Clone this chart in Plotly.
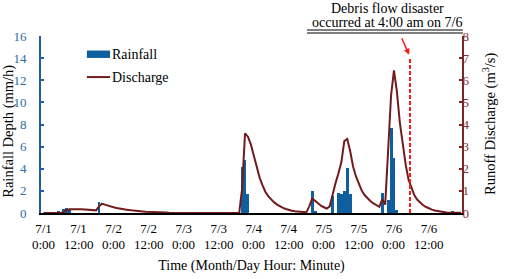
import plotly.graph_objects as go

# ---- data (hourly, hour 0 = 7/1 0:00) ----
hours = list(range(0, 144))

rain_events = {5: 0.15, 7: 0.35, 8: 0.45, 9: 0.25, 19: 1.0,
               68: 4.2, 69: 4.8, 70: 1.7,
               92: 1.95, 93: 0.15,
               99: 1.55, 101: 1.85, 102: 1.75, 103: 2.0, 104: 4.1, 105: 1.75,
               116: 1.8, 118: 1.2, 119: 7.7, 120: 5.0, 121: 0.25,
               140: 0.15}
rainfall = [rain_events.get(h, 0.0) for h in hours]

discharge_events = {
    7: 0.05, 8: 0.14, 9: 0.17, 10: 0.18, 11: 0.18, 12: 0.17, 13: 0.17, 14: 0.16,
    15: 0.15, 16: 0.14, 17: 0.13, 18: 0.12, 19: 0.3, 20: 0.42, 21: 0.38, 22: 0.33,
    23: 0.29, 24: 0.26, 25: 0.23, 26: 0.2, 27: 0.18, 28: 0.16, 29: 0.14, 30: 0.12,
    31: 0.1, 32: 0.09, 33: 0.08, 34: 0.07, 35: 0.06, 36: 0.05, 37: 0.045, 38: 0.04,
    39: 0.035, 40: 0.03, 41: 0.025, 42: 0.02, 43: 0.015, 44: 0.01, 45: 0.01,
    68: 1.1, 69: 3.6, 70: 3.45, 71: 3.1, 72: 2.6, 73: 2.05, 74: 1.6, 75: 1.25,
    76: 0.95, 77: 0.75, 78: 0.6, 79: 0.48, 80: 0.38, 81: 0.3, 82: 0.23, 83: 0.18,
    84: 0.13, 85: 0.1, 86: 0.08, 87: 0.06, 88: 0.05, 89: 0.04, 90: 0.03,
    91: 0.3, 92: 0.65, 93: 0.55, 94: 0.42, 95: 0.33, 96: 0.26, 97: 0.2, 98: 0.3,
    99: 0.9, 100: 1.35, 101: 1.8, 102: 2.3, 103: 3.25, 104: 3.35, 105: 2.8,
    106: 2.1, 107: 1.65, 108: 1.3, 109: 1.0, 110: 0.8, 111: 0.65, 112: 0.53,
    113: 0.43, 114: 0.35, 115: 0.28, 116: 0.62, 117: 0.38, 118: 2.8, 119: 5.3,
    120: 6.45, 121: 5.5, 122: 4.1, 123: 3.1, 124: 2.2, 125: 1.5, 126: 1.1,
    127: 0.8, 128: 0.6, 129: 0.45, 130: 0.35, 131: 0.27, 132: 0.2, 133: 0.15,
    134: 0.11, 135: 0.08, 136: 0.05, 137: 0.03, 138: 0.02, 139: 0.01, 140: 0.01,
    141: 0.01, 142: 0.01, 143: 0.01}
discharge = [discharge_events.get(h, 0.0) for h in hours]

tick_hours = [0, 12, 24, 36, 48, 60, 72, 84, 96, 108, 120, 132]
tick_dates = ["7/1", "7/1", "7/2", "7/2", "7/3", "7/3",
              "7/4", "7/4", "7/5", "7/5", "7/6", "7/6"]
tick_times = ["0:00", "12:00"] * 6

disaster_hour = 125.5
disaster_top = 7.05

FONT = "Liberation Serif"
BLUE = "#0F5E9E"
BLUE_AX = "#1F5F9F"
BLUE_TXT = "#2D6CA8"
RED_LINE = "#731B1B"
RED_AX = "#7E2424"
RED_TXT = "#8B2B2B"

fig = go.Figure()
fig.add_trace(go.Bar(x=hours, y=rainfall, name="Rainfall", marker_color=BLUE,
                     marker_line_width=0, width=1.0, yaxis="y", showlegend=False))
fig.add_trace(go.Scatter(x=hours, y=discharge, name="Discharge", mode="lines",
                         line=dict(color=RED_LINE, width=2), yaxis="y2",
                         showlegend=False))

# second line of the time-axis tick labels
for h, t in zip(tick_hours, tick_times):
    fig.add_annotation(x=h, y=0, xref="x", yref="paper", yshift=-31,
                       xanchor="center", yanchor="middle", showarrow=False, text=t,
                       font=dict(family=FONT, size=13, color="black"))

# legend (drawn manually to match the wide swatches)
fig.add_shape(type="rect", xref="paper", yref="paper", x0=0.109, x1=0.164,
              y0=0.876, y1=0.918, fillcolor=BLUE, line_width=0)
fig.add_shape(type="line", xref="paper", yref="paper", x0=0.109, x1=0.164,
              y0=0.768, y1=0.768, line=dict(color=RED_LINE, width=2))
fig.add_annotation(x=0.165, y=0.898, xref="paper", yref="paper", xanchor="left",
                   yanchor="middle", showarrow=False, text="Rainfall",
                   font=dict(family=FONT, size=14, color="black"))
fig.add_annotation(x=0.165, y=0.768, xref="paper", yref="paper", xanchor="left",
                   yanchor="middle", showarrow=False, text="Discharge",
                   font=dict(family=FONT, size=14, color="black"))

# axis titles
fig.add_annotation(x=-0.078, y=0.46, xref="paper", yref="paper", textangle=-90,
                   xanchor="center", yanchor="middle",
                   showarrow=False, text="Rainfall Depth (mm/h)",
                   font=dict(family=FONT, size=14.5, color="black"))
fig.add_annotation(x=1.0665, y=0.503, xref="paper", yref="paper", textangle=-90,
                   xanchor="center", yanchor="middle",
                   showarrow=False, text="Runoff Discharge (m<sup>3</sup>/s)",
                   font=dict(family=FONT, size=14.5, color="black"))

# disaster marker line + arrow
fig.add_shape(type="line", x0=disaster_hour, x1=disaster_hour, y0=0, y1=disaster_top,
              xref="x", yref="y2",
              line=dict(color="#FF1A1A", width=2, dash="4px,2px"))
fig.add_annotation(x=disaster_hour - 0.3, y=disaster_top + 0.1, xref="x", yref="y2",
                   ax=-8, ay=-18, showarrow=True, arrowhead=2, arrowsize=0.8,
                   arrowwidth=1.5, arrowcolor="#FF1A1A", text="")
fig.add_annotation(x=0.822, y=1.158, xref="paper", yref="paper",
                   xanchor="center", yanchor="middle",
                   showarrow=False, text="Debris flow disaster",
                   font=dict(family=FONT, size=14, color="black"))
fig.add_annotation(x=0.822, y=1.079, xref="paper", yref="paper",
                   xanchor="center", yanchor="middle",
                   showarrow=False, text="occurred at 4:00 am on 7/6",
                   font=dict(family=FONT, size=14, color="black"))
# double underline
for yy in (1.034, 1.017):
    fig.add_shape(type="line", xref="paper", yref="paper", x0=0.632, x1=1.002,
                  y0=yy, y1=yy, line=dict(color="black", width=1.2))

fig.update_layout(
    width=505, height=279,
    margin=dict(l=41, r=43, t=36, b=66),
    paper_bgcolor="white", plot_bgcolor="white",
    font=dict(family=FONT, size=13, color="black"),
    bargap=0,
    xaxis=dict(range=[-0.86, 143.3], tickmode="array", tickvals=tick_hours,
               ticktext=tick_dates, showgrid=False, zeroline=False,
               showline=True, linecolor="black", linewidth=1.5, ticks="",
               ticklabelstandoff=3, automargin=False,
               tickfont=dict(family=FONT, size=13, color="black"),
               title=dict(text="Time (Month/Day Hour: Minute)",
                          font=dict(family=FONT, size=14), standoff=25)),
    yaxis=dict(range=[0, 16], dtick=2, showgrid=False, zeroline=False,
               showline=True, linecolor=BLUE_AX, linewidth=2,
               ticks="inside", ticklen=3, tickcolor=BLUE_AX, tickwidth=2,
               ticklabelstandoff=10, automargin=False,
               tickfont=dict(family=FONT, size=13, color=BLUE_TXT)),
    yaxis2=dict(range=[0, 8], dtick=1, overlaying="y", side="right",
                showgrid=False, zeroline=False, showline=True,
                linecolor=RED_AX, linewidth=2, ticks="inside", ticklen=3,
                tickcolor=RED_AX, tickwidth=2, ticklabelstandoff=-4,
                automargin=False,
                tickfont=dict(family=FONT, size=13, color=RED_TXT)),
)

fig.write_html("out.html", config={"displayModeBar": False},
               post_script="document.body.style.margin='0';")
